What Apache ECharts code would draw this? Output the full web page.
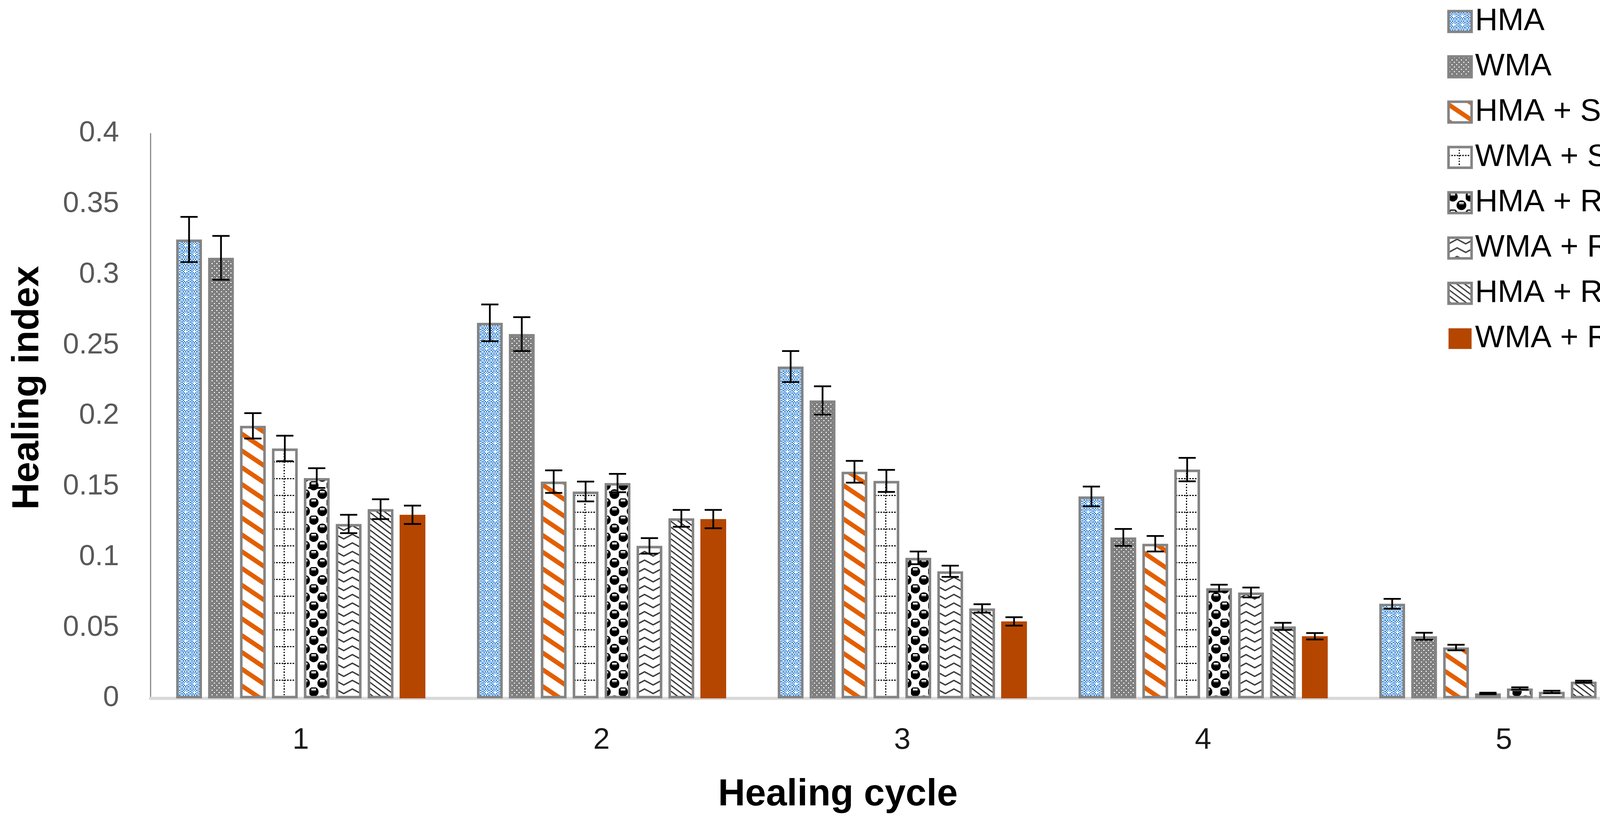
<!DOCTYPE html>
<html>
<head>
<meta charset="utf-8">
<script src="https://cdn.jsdelivr.net/npm/echarts@6/dist/echarts.min.js"></script>
<style>
html,body{margin:0;padding:0;background:#fff;}
#chart{width:4277px;height:2102px;}
</style>
</head>
<body>
<div id="chart"></div>
<script>
// ---------- data ----------
const categories = ['1', '2', '3', '4', '5'];
const seriesNames = ['HMA', 'WMA', 'HMA + SBS', 'WMA + SBS', 'HMA + RWE', 'WMA + RWE', 'HMA + RWP', 'WMA + RWP'];
const yTicks = [0, 0.05, 0.1, 0.15, 0.2, 0.25, 0.3, 0.35, 0.4];

const hma    = [0.325, 0.266, 0.235, 0.143, 0.067];
const wma    = [0.312, 0.258, 0.211, 0.114, 0.044];
const hmaSbs = [0.193, 0.1535, 0.1605, 0.1095, 0.036];
const wmaSbs = [0.177, 0.1465, 0.154, 0.162, 0.0035];
const hmaRwe = [0.156, 0.1525, 0.0995, 0.078, 0.007];
const wmaRwe = [0.1235, 0.108, 0.09, 0.075, 0.0046];
const hmaRwp = [0.134, 0.1275, 0.0637, 0.051, 0.0118];
const wmaRwp = [0.130, 0.127, 0.0545, 0.044, 0.0142];

const hmaErr    = [0.016, 0.013, 0.011, 0.007, 0.0035];
const wmaErr    = [0.0155, 0.012, 0.010, 0.006, 0.0025];
const hmaSbsErr = [0.009, 0.008, 0.0077, 0.0055, 0.002];
const wmaSbsErr = [0.009, 0.007, 0.0078, 0.0083, 0.0005];
const hmaRweErr = [0.007, 0.0065, 0.0045, 0.0025, 0.0008];
const wmaRweErr = [0.0065, 0.0055, 0.004, 0.0035, 0.0008];
const hmaRwpErr = [0.007, 0.006, 0.003, 0.0025, 0.0007];
const wmaRwpErr = [0.0065, 0.0065, 0.003, 0.0023, 0.0007];

const values = [hma, wma, hmaSbs, wmaSbs, hmaRwe, wmaRwe, hmaRwp, wmaRwp];
const errors = [hmaErr, wmaErr, hmaSbsErr, wmaSbsErr, hmaRweErr, wmaRweErr, hmaRwpErr, wmaRwpErr];

// ---------- patterns ----------
function tile(w, h, draw) {
  const c = document.createElement('canvas');
  c.width = w; c.height = h;
  const g = c.getContext('2d');
  draw(g, w, h);
  return { image: c, repeat: 'repeat' };
}
const pHMA = tile(22, 22, (g) => {
  g.fillStyle = '#9dc3e6'; g.fillRect(0, 0, 22, 22);
  for (let i = 0; i < 6; i++) for (let j = 0; j < 6; j++) {
    g.fillStyle = ((i + j) % 2 === 0) ? '#1370d2' : '#ffffff';
    g.fillRect(3 + i * 3, 3 + j * 3, 3, 3);
  }
  g.fillStyle = '#ffffff';
  g.fillRect(9, 11, 10, 3); g.fillRect(12, 8, 3, 9);
});
const pWMA = tile(12, 12, (g) => {
  g.fillStyle = '#ffffff'; g.fillRect(0, 0, 12, 12);
  g.fillStyle = '#000000';
  for (let x = 0; x < 12; x += 2) for (let y = 0; y < 12; y += 2)
    if (((x + y) / 2) % 2 === 0) g.fillRect(x, y, 2, 2);
  g.fillStyle = '#ffffff';
  g.fillRect(1, 2, 4, 2); g.fillRect(2, 1, 2, 4);
  g.fillRect(7, 8, 4, 2); g.fillRect(8, 7, 2, 4);
});
const pHMASBS = tile(64, 43, (g) => {
  g.fillStyle = '#ffffff'; g.fillRect(0, 0, 64, 43);
  g.fillStyle = '#e35f00';
  for (let k = -2; k <= 1; k++) {
    g.beginPath();
    g.moveTo(0, k * 43); g.lineTo(64, k * 43 + 43);
    g.lineTo(64, k * 43 + 57); g.lineTo(0, k * 43 + 14);
    g.closePath(); g.fill();
  }
});
const pWMASBS = tile(70, 43, (g) => {
  g.fillStyle = '#ffffff'; g.fillRect(0, 0, 70, 43);
  g.fillStyle = '#000000';
  for (let x = 0; x < 70; x += 7) g.fillRect(x, 20, 4, 3);
  for (let y = 0; y < 43; y += 7) g.fillRect(26, y, 3, 3);
});
const pHMARWE = tile(44, 44, (g) => {
  g.fillStyle = '#ffffff'; g.fillRect(0, 0, 44, 44);
  function blob(cx, cy) {
    g.fillStyle = '#000000';
    g.beginPath(); g.arc(cx, cy, 12.5, 0, Math.PI * 2); g.fill();
    g.fillStyle = '#8c8c8c'; g.fillRect(cx - 6, cy - 5, 12, 3);
    g.fillStyle = '#ffffff'; g.fillRect(cx - 6, cy - 8, 12, 3);
  }
  blob(11, 11); blob(33, 33);
  blob(55, 33); blob(-11, 33); blob(33, -11); blob(33, 55); blob(-11, -11); blob(55, 55); blob(55, -11); blob(-11, 55);
});
const pWMARWE = tile(44, 22, (g) => {
  g.fillStyle = '#ffffff'; g.fillRect(0, 0, 44, 22);
  g.strokeStyle = '#3a3a3a'; g.lineWidth = 3.5;
  g.beginPath(); g.moveTo(-4, 18); g.lineTo(22, 4); g.lineTo(48, 18); g.stroke();
});
const pHMARWP = tile(20, 15, (g) => {
  g.fillStyle = '#ffffff'; g.fillRect(0, 0, 20, 15);
  for (let k = -2; k <= 1; k++) {
    g.fillStyle = '#000000';
    g.beginPath();
    g.moveTo(0, k * 15); g.lineTo(20, k * 15 + 15);
    g.lineTo(20, k * 15 + 17.5); g.lineTo(0, k * 15 + 2.5);
    g.closePath(); g.fill();
    g.fillStyle = '#8c8c8c';
    g.beginPath();
    g.moveTo(0, k * 15 + 2.5); g.lineTo(20, k * 15 + 17.5);
    g.lineTo(20, k * 15 + 19.5); g.lineTo(0, k * 15 + 4.5);
    g.closePath(); g.fill();
  }
});
const fills = [pHMA, pWMA, pHMASBS, pWMASBS, pHMARWE, pWMARWE, pHMARWP, '#b54600'];

// ---------- layout constants ----------
const BAR_W = 66;
const BAR_GAP = 0.238;
const PITCH = BAR_W * (1 + BAR_GAP);
const TOTAL = seriesNames.length * BAR_W + (seriesNames.length - 1) * BAR_W * BAR_GAP;
function barOffset(s) { return -TOTAL / 2 + BAR_W / 2 + s * PITCH; }

const FONT = 'Liberation Sans';

const barSeries = seriesNames.map((name, s) => ({
  name: name,
  type: 'bar',
  data: values[s],
  barWidth: BAR_W,
  barGap: (BAR_GAP * 100) + '%',
  itemStyle: s === 7
    ? { color: fills[s], borderWidth: 0 }
    : { color: fills[s], borderColor: '#848484', borderWidth: 6.5 },
  emphasis: { disabled: true }
}));

const errData = [];
values.forEach((arr, s) => arr.forEach((v, i) => errData.push([i, s, v, errors[s][i]])));

const errSeries = {
  type: 'custom',
  data: errData,
  encode: { x: 0, y: 2 },
  z: 10,
  silent: true,
  renderItem: function (params, api) {
    const ci = api.value(0), si = api.value(1), v = api.value(2), e = api.value(3);
    const top = api.coord([ci, v + e]);
    const bot = api.coord([ci, v - e]);
    const x = top[0] + barOffset(si);
    const hw = 22;
    const st = { stroke: '#000000', lineWidth: 4.5 };
    return {
      type: 'group',
      children: [
        { type: 'line', shape: { x1: x, y1: top[1], x2: x, y2: bot[1] }, style: st },
        { type: 'line', shape: { x1: x - hw, y1: top[1], x2: x + hw, y2: top[1] }, style: st },
        { type: 'line', shape: { x1: x - hw, y1: bot[1], x2: x + hw, y2: bot[1] }, style: st }
      ]
    };
  }
};

const chart = echarts.init(document.getElementById('chart'), null, { renderer: 'canvas' });
chart.setOption({
  animation: false,
  backgroundColor: '#ffffff',
  grid: { left: 385, right: 42, top: 342, bottom: 314, containLabel: false },
  legend: {
    data: seriesNames,
    orient: 'vertical',
    left: 3700,
    top: 10,
    icon: 'rect',
    itemWidth: 59,
    itemHeight: 53,
    itemGap: 36,
    textStyle: { fontFamily: FONT, fontSize: 80, color: '#000000', padding: [0, 0, 0, 4] },
    itemStyle: { borderWidth: 'inherit' },
    selectedMode: false
  },
  xAxis: {
    type: 'category',
    data: categories,
    axisLine: { show: true, lineStyle: { color: '#d9d9d9', width: 8 } },
    axisTick: { show: false },
    axisLabel: { fontFamily: FONT, fontSize: 76, color: '#1a1a1a', margin: 70 },
    name: 'Healing cycle',
    nameLocation: 'middle',
    nameGap: 200,
    nameTextStyle: { fontFamily: FONT, fontSize: 96, fontWeight: 'bold', color: '#000000', padding: [0, 330, 0, 0] }
  },
  yAxis: {
    type: 'value',
    min: yTicks[0],
    max: yTicks[yTicks.length - 1],
    interval: yTicks[1] - yTicks[0],
    splitLine: { show: false },
    axisLine: { show: true, lineStyle: { color: '#8a8a8a', width: 3 } },
    axisTick: { show: false },
    axisLabel: { fontFamily: FONT, fontSize: 74, color: '#595959', margin: 80 },
    name: 'Healing index',
    nameLocation: 'middle',
    nameGap: 265,
    nameTextStyle: { fontFamily: FONT, fontSize: 96, fontWeight: 'bold', color: '#000000', padding: [0, 0, 0, 144] }
  },
  series: barSeries.concat([errSeries])
});
</script>
</body>
</html>
